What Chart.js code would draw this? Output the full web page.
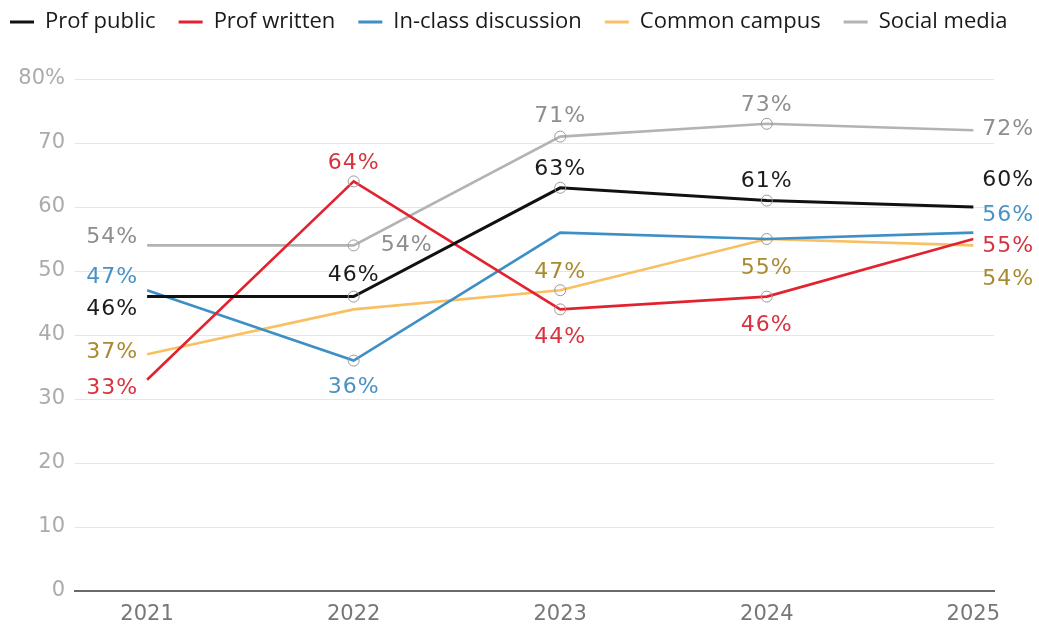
<!DOCTYPE html>
<html>
<head>
<meta charset="utf-8">
<script src="https://cdn.jsdelivr.net/npm/chart.js@4/dist/chart.umd.min.js"></script>
<style>
body { margin: 0; background: #fff; }
#wrap { width: 1039px; height: 626px; }
</style>
</head>
<body>
<div id="wrap"><canvas id="chart" width="1039" height="626"></canvas></div>
<script>
// survey years and share (%) per channel
const years = [2021, 2022, 2023, 2024, 2025];
const profPublic = [46, 46, 63, 61, 60];
const profWritten = [33, 64, 44, 46, 55];
const inClass = [47, 36, 56, 55, 56];
const commonCampus = [37, 44, 47, 55, 54];
const socialMedia = [54, 54, 71, 73, 72];
const yTicks = [0, 10, 20, 30, 40, 50, 60, 70, 80];

// value label spot for each point: [align, dx, dy], null = no label
const placePublic = [['right', -9, 13], ['center', 0, -21], ['center', 0, -19], ['center', 0, -19], ['left', 9, -27]];
const placeWritten = [['right', -9, 8], ['center', 0, -18], ['center', 0, 28], ['center', 0, 29], ['left', 9, 7]];
const placeInClass = [['right', -9, -13], ['center', 0, 27], null, null, ['left', 9, -17]];
const placeCommon = [['right', -9, -2], null, ['center', 0, -18], ['center', 0, 29], ['left', 9, 34]];
const placeSocial = [['right', -9, -8], ['left', 27, 0], ['center', 0, -20], ['center', 0, -19], ['left', 9, -1]];

const series = [
  { name: 'Prof public', values: profPublic, color: '#111111', text: '#1c1c1c', place: placePublic },
  { name: 'Prof written', values: profWritten, color: '#e2232f', text: '#d8323f', place: placeWritten },
  { name: 'In-class discussion', values: inClass, color: '#3d8fc6', text: '#4a92c3', place: placeInClass },
  { name: 'Common campus', values: commonCampus, color: '#f8c063', text: '#a88b30', place: placeCommon },
  { name: 'Social media', values: socialMedia, color: '#b3b3b3', text: '#8e8e8e', place: placeSocial }
];

// circles only on labelled points of the middle years
function hasMarker(ds, i) {
  return i > 0 && i < years.length - 1 && series[ds].place[i] !== null;
}

const valueLabels = {
  id: 'valueLabels',
  afterDatasetsDraw(chart) {
    const ctx = chart.ctx;
    ctx.save();
    ctx.font = '22px "DejaVu Sans"';
    ctx.letterSpacing = '1px';
    ctx.textBaseline = 'middle';
    series.forEach((s, d) => {
      const meta = chart.getDatasetMeta(d);
      meta.data.forEach((pt, i) => {
        const p = s.place[i];
        if (!p) return;
        ctx.fillStyle = s.text;
        ctx.textAlign = p[0];
        ctx.fillText(s.values[i] + '%', pt.x + p[1], pt.y + p[2]);
      });
    });
    ctx.restore();
  }
};

// fixed legend height, legend pulled up to the top-left corner
const legendFit = {
  id: 'legendFit',
  afterInit(chart) {
    const lg = chart.legend;
    const fit = lg.fit.bind(lg);
    lg.fit = function () {
      fit();
      this.height = 79;
    };
  },
  afterLayout(chart) {
    chart.legend.top -= 12;
    chart.legend.left -= 13;
  }
};

new Chart(document.getElementById('chart'), {
  type: 'line',
  data: {
    datasets: series.map((s, d) => ({
      label: s.name,
      data: years.map((y, i) => ({ x: y, y: s.values[i] })),
      borderColor: s.color,
      backgroundColor: s.color,
      borderWidth: d === 0 ? 3 : 2.6,
      tension: 0,
      pointRadius: c => hasMarker(c.datasetIndex, c.dataIndex) ? 5.5 : 0,
      pointHoverRadius: 0,
      pointBorderColor: '#9a9a9a',
      pointBackgroundColor: 'rgba(0,0,0,0)',
      pointBorderWidth: 1
    }))
  },
  options: {
    responsive: false,
    animation: false,
    devicePixelRatio: 1,
    layout: { padding: 0 },
    plugins: {
      tooltip: { enabled: false },
      legend: {
        position: 'top',
        align: 'start',
        labels: {
          boxWidth: 24,
          boxHeight: 3,
          padding: 23,
          color: '#1a1a1a',
          font: { family: '"Open Sans"', size: 22 },
          generateLabels: chart => Chart.defaults.plugins.legend.labels.generateLabels(chart)
            .map(l => Object.assign(l, { lineWidth: 0 }))
        }
      }
    },
    scales: {
      x: {
        type: 'linear',
        min: 2020.651,
        max: 2025.1,
        afterBuildTicks: sc => { sc.ticks = years.map(v => ({ value: v })); },
        afterFit: sc => { sc.height = 35; },
        grid: { display: false },
        border: { display: true, color: '#6a6a6a', width: 2 },
        ticks: {
          color: '#777',
          padding: 3,
          font: { family: '"DejaVu Sans"', size: 21 },
          callback: v => String(v)
        }
      },
      y: {
        min: 0,
        max: 80,
        afterBuildTicks: sc => { sc.ticks = yTicks.map(v => ({ value: v })); },
        afterFit: sc => { sc.width = 75; },
        grid: { color: '#e6e6e6', lineWidth: 1, drawTicks: false },
        border: { display: false },
        ticks: {
          color: '#ababab',
          padding: 10,
          font: { family: '"DejaVu Sans"', size: 21 },
          callback: v => v === 80 ? '80%' : v
        }
      },
      // empty strip on the right for the end labels
      gutter: {
        type: 'linear',
        position: 'right',
        display: true,
        afterFit: sc => { sc.width = 45; },
        grid: { display: false },
        border: { display: false },
        ticks: { display: false }
      }
    }
  },
  plugins: [valueLabels, legendFit]
});
</script>
</body>
</html>
